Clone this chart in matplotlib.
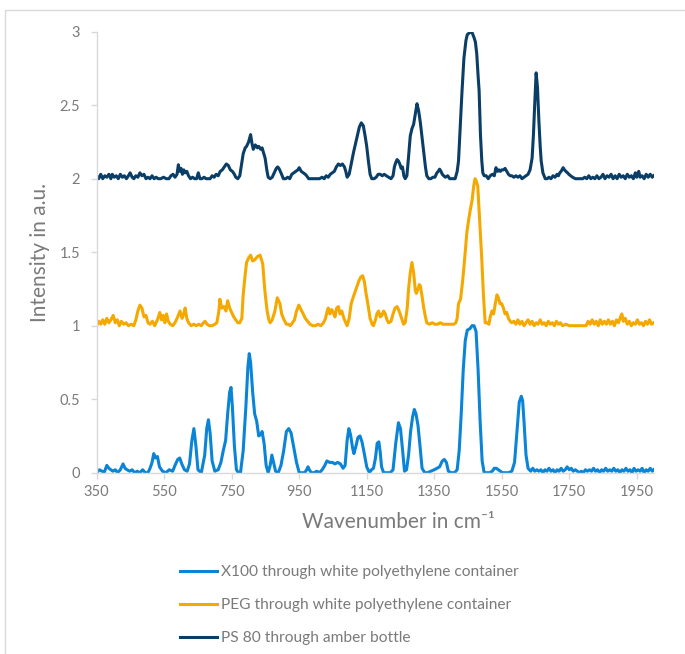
import matplotlib
matplotlib.use('Agg')
import matplotlib.pyplot as plt
from matplotlib.patches import Rectangle

plt.rcParams['font.family'] = ['Lato', 'DejaVu Sans']

# Raman spectra, stacked with offsets of 1 a.u.
x100_wn = [350, 358, 366, 372, 380, 386, 392, 398, 405, 412, 420, 428, 434, 440, 448, 455, 462, 470, 478,
           486, 494, 502, 508, 514, 519, 524, 530, 536, 545, 555, 565, 575, 582, 590, 596, 602, 610, 618,
           625, 632, 638, 644, 650, 660, 670, 676, 681, 686, 692, 700, 710, 718, 725, 732, 738, 744, 748,
           752, 758, 764, 770, 776, 784, 792, 798, 802, 806, 812, 818, 824, 830, 836, 840, 846, 852, 858,
           864, 869, 874, 880, 888, 896, 904, 912, 919, 926, 934, 942, 950, 958, 966, 972, 976, 980, 986,
           994, 1002, 1010, 1018, 1026, 1032, 1040, 1048, 1056, 1064, 1072, 1080, 1086, 1092, 1097, 1102,
           1108, 1112, 1118, 1124, 1130, 1136, 1142, 1150, 1158, 1164, 1170, 1176, 1181, 1186, 1190, 1194,
           1200, 1210, 1220, 1228, 1236, 1244, 1250, 1256, 1262, 1268, 1274, 1280, 1286, 1291, 1296, 1302,
           1308, 1314, 1322, 1330, 1340, 1350, 1358, 1366, 1374, 1380, 1386, 1392, 1400, 1410, 1418, 1424,
           1430, 1436, 1442, 1448, 1456, 1462, 1468, 1474, 1480, 1486, 1492, 1498, 1506, 1514, 1522, 1528,
           1534, 1540, 1546, 1552, 1560, 1570, 1580, 1588, 1596, 1602, 1608, 1612, 1616, 1622, 1628, 1636,
           1642, 1648, 1654, 1660, 1666, 1672, 1678, 1684, 1690, 1696, 1702, 1708, 1714, 1720, 1726, 1732,
           1738, 1744, 1750, 1756, 1762, 1768, 1774, 1780, 1786, 1792, 1798, 1804, 1810, 1816, 1822, 1828,
           1834, 1840, 1846, 1852, 1858, 1864, 1870, 1876, 1882, 1888, 1894, 1900, 1906, 1912, 1918, 1924,
           1930, 1936, 1942, 1948, 1954, 1960, 1966, 1972, 1978, 1984, 1990, 1996, 2000]
x100_int = [0.0, 0.02, 0.01, 0.0, 0.05, 0.03, 0.02, 0.01, 0.02, 0.0, 0.02, 0.06, 0.03, 0.02, 0.01, 0.02, 0.0,
            0.01, 0.0, 0.02, 0.0, 0.0, 0.03, 0.07, 0.13, 0.10, 0.11, 0.04, 0.01, 0.0, 0.02, 0.01, 0.05, 0.09,
            0.10, 0.06, 0.02, 0.01, 0.06, 0.22, 0.30, 0.18, 0.02, 0.0, 0.12, 0.30, 0.36, 0.27, 0.08, 0.01,
            0.02, 0.07, 0.15, 0.22, 0.40, 0.55, 0.58, 0.45, 0.18, 0.02, 0.0, 0.0, 0.15, 0.45, 0.72, 0.81,
            0.75, 0.55, 0.40, 0.35, 0.25, 0.26, 0.28, 0.20, 0.05, 0.0, 0.05, 0.12, 0.07, 0.01, 0.0, 0.05,
            0.15, 0.28, 0.30, 0.27, 0.17, 0.07, 0.0, 0.0, 0.0, 0.02, 0.04, 0.02, 0.0, 0.0, 0.01, 0.0, 0.02,
            0.05, 0.08, 0.07, 0.07, 0.06, 0.07, 0.06, 0.03, 0.05, 0.22, 0.30, 0.26, 0.17, 0.13, 0.18, 0.24,
            0.25, 0.21, 0.14, 0.04, 0.0, 0.02, 0.03, 0.10, 0.20, 0.21, 0.14, 0.04, 0.0, 0.0, 0.0, 0.02, 0.20,
            0.34, 0.30, 0.16, 0.01, 0.02, 0.12, 0.28, 0.38, 0.43, 0.40, 0.32, 0.18, 0.03, 0.0, 0.0, 0.01,
            0.02, 0.03, 0.04, 0.08, 0.09, 0.07, 0.01, 0.0, 0.0, 0.02, 0.15, 0.40, 0.70, 0.90, 0.97, 0.98,
            1.0, 1.0, 0.96, 0.70, 0.35, 0.08, 0.0, 0.0, 0.0, 0.01, 0.03, 0.03, 0.02, 0.01, 0.0, 0.0, 0.0,
            0.01, 0.07, 0.30, 0.48, 0.52, 0.49, 0.35, 0.12, 0.03, 0.01, 0.03, 0.01, 0.02, 0.01, 0.02, 0.0,
            0.02, 0.01, 0.03, 0.01, 0.02, 0.0, 0.02, 0.01, 0.03, 0.01, 0.02, 0.04, 0.02, 0.03, 0.01, 0.02,
            0.01, 0.0, 0.01, 0.0, 0.02, 0.01, 0.02, 0.01, 0.03, 0.01, 0.02, 0.0, 0.02, 0.01, 0.03, 0.01,
            0.02, 0.01, 0.03, 0.01, 0.02, 0.0, 0.02, 0.01, 0.03, 0.01, 0.02, 0.0, 0.03, 0.01, 0.02, 0.01,
            0.03, 0.0, 0.02, 0.01, 0.03, 0.01, 0.02]

peg_wn = [350, 356, 362, 368, 374, 380, 386, 392, 399, 405, 411, 417, 423, 430, 437, 444, 452, 460, 466,
          472, 478, 484, 490, 496, 502, 508, 515, 522, 530, 537, 542, 547, 552, 557, 562, 568, 575, 582,
          590, 597, 603, 608, 612, 617, 622, 630, 638, 645, 652, 660, 666, 671, 677, 684, 692, 700, 706,
          712, 715, 720, 727, 733, 738, 744, 750, 756, 762, 768, 774, 780, 784, 790, 794, 800, 806, 812,
          819, 826, 834, 838, 842, 846, 849, 855, 860, 864, 870, 878, 885, 889, 893, 898, 905, 912, 918,
          923, 930, 936, 942, 949, 955, 962, 968, 975, 982, 990, 998, 1006, 1014, 1022, 1028, 1033, 1036,
          1041, 1046, 1051, 1056, 1061, 1066, 1071, 1076, 1081, 1086, 1092, 1098, 1104, 1108, 1114, 1120,
          1126, 1132, 1138, 1143, 1148, 1154, 1160, 1166, 1170, 1176, 1180, 1185, 1190, 1195, 1200, 1205,
          1210, 1215, 1222, 1228, 1234, 1240, 1246, 1252, 1259, 1264, 1270, 1274, 1279, 1284, 1289, 1294,
          1297, 1302, 1306, 1309, 1314, 1319, 1324, 1328, 1336, 1344, 1352, 1360, 1368, 1376, 1384, 1392,
          1400, 1408, 1414, 1418, 1422, 1428, 1434, 1440, 1447, 1452, 1457, 1462, 1467, 1471, 1475, 1479,
          1485, 1491, 1496, 1501, 1506, 1512, 1516, 1521, 1526, 1531, 1536, 1540, 1545, 1550, 1555, 1560,
          1565, 1570, 1575, 1580, 1586, 1592, 1598, 1604, 1610, 1616, 1622, 1628, 1634, 1640, 1646, 1652,
          1658, 1664, 1670, 1676, 1682, 1688, 1694, 1700, 1706, 1712, 1718, 1724, 1730, 1740, 1750, 1760,
          1770, 1780, 1790, 1800, 1806, 1812, 1818, 1824, 1830, 1836, 1842, 1848, 1854, 1860, 1866, 1872,
          1878, 1884, 1890, 1896, 1902, 1906, 1910, 1916, 1922, 1928, 1934, 1940, 1946, 1952, 1958, 1964,
          1970, 1976, 1982, 1988, 1994, 2000]
peg_int = [1.0, 1.03, 1.01, 1.04, 1.01, 1.05, 1.02, 1.04, 1.07, 1.02, 1.04, 1.0, 1.03, 1.01, 1.02, 1.0,
           1.01, 1.0, 1.04, 1.10, 1.14, 1.12, 1.06, 1.07, 1.02, 1.01, 1.03, 1.0, 1.04, 1.09, 1.04, 1.07,
           1.02, 1.08, 1.03, 1.01, 1.0, 1.02, 1.06, 1.10, 1.05, 1.08, 1.12, 1.05, 1.02, 1.0, 1.01, 1.0,
           1.01, 1.0, 1.02, 1.03, 1.01, 1.0, 1.0, 1.01, 1.02, 1.10, 1.18, 1.12, 1.13, 1.10, 1.17, 1.12,
           1.09, 1.06, 1.04, 1.02, 1.02, 1.05, 1.21, 1.35, 1.43, 1.46, 1.48, 1.44, 1.45, 1.47, 1.48, 1.45,
           1.42, 1.30, 1.22, 1.10, 1.04, 1.02, 1.04, 1.10, 1.19, 1.17, 1.15, 1.08, 1.04, 1.01, 1.01, 1.0,
           1.02, 1.04, 1.10, 1.14, 1.11, 1.08, 1.05, 1.03, 1.01, 1.0, 1.0, 1.01, 1.0, 1.02, 1.05, 1.10,
           1.12, 1.08, 1.11, 1.09, 1.06, 1.12, 1.13, 1.08, 1.10, 1.06, 1.03, 1.0, 1.05, 1.15, 1.18, 1.22,
           1.26, 1.30, 1.33, 1.34, 1.30, 1.22, 1.14, 1.05, 1.01, 1.0, 1.04, 1.08, 1.10, 1.06, 1.07, 1.10,
           1.08, 1.04, 1.02, 1.03, 1.08, 1.12, 1.13, 1.10, 1.06, 1.01, 1.02, 1.12, 1.25, 1.36, 1.43, 1.36,
           1.24, 1.22, 1.25, 1.28, 1.27, 1.20, 1.12, 1.06, 1.02, 1.01, 1.02, 1.01, 1.01, 1.02, 1.01, 1.01,
           1.01, 1.01, 1.01, 1.02, 1.05, 1.15, 1.18, 1.30, 1.45, 1.64, 1.72, 1.79, 1.85, 1.95, 2.0, 1.98,
           1.95, 1.70, 1.45, 1.20, 1.02, 1.02, 1.01, 1.06, 1.10, 1.08, 1.15, 1.21, 1.19, 1.15, 1.15, 1.12,
           1.08, 1.09, 1.05, 1.03, 1.02, 1.03, 1.01, 1.04, 1.01, 1.03, 1.0, 1.02, 1.04, 1.01, 1.03, 1.0,
           1.02, 1.01, 1.04, 1.01, 1.02, 1.0, 1.03, 1.01, 1.02, 1.0, 1.03, 1.01, 1.02, 1.0, 1.01, 1.0, 1.0,
           1.0, 1.0, 1.0, 1.0, 1.03, 1.01, 1.04, 1.01, 1.03, 1.0, 1.04, 1.01, 1.03, 1.01, 1.04, 1.01, 1.03,
           1.0, 1.04, 1.02, 1.06, 1.08, 1.03, 1.05, 1.01, 1.03, 1.0, 1.02, 1.01, 1.04, 1.01, 1.02, 1.0,
           1.03, 1.01, 1.04, 1.01, 1.02]

ps80_wn = [350, 356, 362, 368, 374, 380, 386, 392, 396, 402, 408, 414, 420, 426, 432, 438, 444, 449, 455,
           460, 466, 472, 478, 484, 490, 496, 502, 508, 514, 520, 526, 532, 540, 548, 556, 564, 570, 576,
           582, 588, 592, 596, 600, 604, 608, 612, 617, 622, 628, 634, 640, 646, 651, 656, 662, 668, 674,
           680, 686, 692, 698, 704, 710, 716, 722, 728, 734, 740, 746, 752, 758, 762, 768, 774, 778, 784,
           790, 794, 800, 806, 810, 814, 820, 826, 830, 836, 840, 844, 849, 854, 858, 864, 870, 876, 882,
           886, 890, 896, 903, 910, 916, 922, 928, 934, 940, 946, 950, 956, 962, 968, 972, 978, 986, 994,
           1002, 1010, 1018, 1024, 1030, 1036, 1042, 1048, 1054, 1060, 1066, 1072, 1078, 1084, 1088, 1092,
           1098, 1104, 1111, 1121, 1128, 1134, 1140, 1146, 1150, 1155, 1160, 1165, 1172, 1178, 1184, 1190,
           1196, 1202, 1208, 1215, 1222, 1228, 1232, 1236, 1240, 1244, 1248, 1252, 1256, 1260, 1264, 1269,
           1274, 1279, 1284, 1289, 1294, 1299, 1304, 1309, 1314, 1319, 1324, 1328, 1334, 1340, 1346, 1352,
           1358, 1362, 1366, 1370, 1374, 1378, 1383, 1390, 1396, 1404, 1412, 1418, 1422, 1426, 1432, 1438,
           1444, 1448, 1453, 1458, 1463, 1468, 1472, 1476, 1480, 1483, 1487, 1491, 1494, 1498, 1504, 1510,
           1516, 1522, 1528, 1533, 1538, 1542, 1546, 1550, 1555, 1560, 1565, 1570, 1575, 1580, 1586, 1592,
           1598, 1604, 1610, 1616, 1622, 1628, 1634, 1640, 1644, 1648, 1652, 1656, 1660, 1664, 1667, 1672,
           1679, 1685, 1690, 1696, 1702, 1708, 1714, 1718, 1722, 1726, 1732, 1736, 1740, 1745, 1749, 1754,
           1760, 1768, 1776, 1784, 1790, 1796, 1802, 1808, 1814, 1820, 1826, 1832, 1838, 1844, 1850, 1856,
           1862, 1868, 1874, 1880, 1886, 1892, 1898, 1904, 1910, 1916, 1922, 1928, 1934, 1940, 1946, 1950,
           1956, 1960, 1966, 1972, 1978, 1984, 1990, 1996, 2000]
ps80_int = [2.02, 2.0, 2.03, 2.0, 2.02, 2.01, 2.03, 2.0, 2.03, 2.01, 2.02, 2.0, 2.03, 2.01, 2.02, 2.0, 2.02,
            2.04, 2.01, 2.0, 2.02, 2.01, 2.04, 2.02, 2.03, 2.0, 2.01, 2.0, 2.02, 2.0, 2.01, 2.0, 2.0, 2.01,
            2.0, 2.0, 2.02, 2.03, 2.01, 2.03, 2.095, 2.05, 2.07, 2.03, 2.06, 2.04, 2.05, 2.02, 2.0, 2.01, 2.0,
            2.0, 2.04, 2.0, 2.0, 2.01, 2.0, 2.0, 2.0, 2.02, 2.01, 2.03, 2.02, 2.05, 2.06, 2.08, 2.10, 2.09,
            2.06, 2.05, 2.03, 2.01, 2.0, 2.02, 2.08, 2.17, 2.21, 2.22, 2.25, 2.30, 2.24, 2.20, 2.23, 2.21,
            2.22, 2.20, 2.21, 2.18, 2.14, 2.06, 2.01, 2.0, 2.01, 2.04, 2.07, 2.08, 2.07, 2.04, 2.0, 2.0,
            2.01, 2.0, 2.03, 2.04, 2.05, 2.06, 2.075, 2.05, 2.04, 2.03, 2.02, 2.0, 2.0, 2.0, 2.0, 2.0, 2.01,
            2.0, 2.02, 2.01, 2.03, 2.04, 2.05, 2.08, 2.10, 2.09, 2.10, 2.08, 2.05, 2.01, 2.03, 2.10, 2.18,
            2.28, 2.35, 2.38, 2.36, 2.28, 2.22, 2.12, 2.03, 2.0, 2.0, 2.01, 2.03, 2.03, 2.02, 2.03, 2.02,
            2.01, 2.0, 2.02, 2.08, 2.11, 2.13, 2.12, 2.10, 2.07, 2.08, 2.02, 2.0, 2.02, 2.15, 2.29, 2.34,
            2.37, 2.44, 2.51, 2.46, 2.38, 2.28, 2.18, 2.08, 2.02, 2.0, 2.0, 2.01, 2.01, 2.04, 2.05, 2.065,
            2.05, 2.03, 2.02, 2.01, 2.02, 2.0, 2.0, 2.0, 2.05, 2.12, 2.30, 2.58, 2.82, 2.94, 2.98, 2.99,
            3.0, 2.99, 2.96, 2.93, 2.85, 2.70, 2.60, 2.30, 2.12, 2.04, 2.02, 2.02, 2.0, 2.02, 2.03, 2.02,
            2.075, 2.05, 2.06, 2.05, 2.06, 2.06, 2.07, 2.05, 2.03, 2.02, 2.02, 2.01, 2.02, 2.01, 2.02, 2.0,
            2.01, 2.02, 2.03, 2.06, 2.14, 2.30, 2.52, 2.72, 2.62, 2.40, 2.22, 2.12, 2.04, 2.0, 2.0, 2.01,
            2.0, 2.02, 2.01, 2.03, 2.02, 2.04, 2.05, 2.075, 2.06, 2.05, 2.04, 2.03, 2.02, 2.01, 2.0, 2.0,
            2.0, 2.0, 2.01, 2.0, 2.02, 2.0, 2.01, 2.0, 2.02, 2.0, 2.01, 2.03, 2.0, 2.02, 2.01, 2.03, 2.0,
            2.02, 2.0, 2.03, 2.01, 2.02, 2.0, 2.03, 2.01, 2.02, 2.0, 2.04, 2.01, 2.05, 2.01, 2.02, 2.0, 2.03,
            2.01, 2.03, 2.01, 2.02]

labels = ['X100 through white polyethylene container',
          'PEG through white polyethylene container',
          'PS 80 through amber bottle']
colors = ['#0A84D6', '#F5A800', '#0B3E66']
x_ticks = [350, 550, 750, 950, 1150, 1350, 1550, 1750, 1950]
y_ticks = [0, 0.5, 1, 1.5, 2, 2.5, 3]

text_color = '#7A7A7A'
axis_color = '#D9D9D9'

fig = plt.figure(figsize=(6.85, 6.54), dpi=100)
# light outer chart border
fig.patches.append(Rectangle((5 / 685, -0.1), 2, (644 / 654) + 0.1, transform=fig.transFigure,
                             fill=False, edgecolor='#D9D9D9', linewidth=1.0))

ax = fig.add_axes([96.7 / 685, 181.3 / 654, 556.9 / 685, 441 / 654])

series = [(x100_wn, x100_int), (peg_wn, peg_int), (ps80_wn, ps80_int)]
lines = []
for (wn, inten), lab, col in zip(series, labels, colors):
    ln, = ax.plot(wn, inten, color=col, linewidth=2.2, label=lab, solid_joinstyle='round')
    lines.append(ln)

ax.set_xlim(350, 2000)
ax.set_ylim(0, 3)
ax.set_xticks(x_ticks)
ax.set_yticks(y_ticks)
ax.set_yticklabels(['0', '0.5', '1', '1.5', '2', '2.5', '3'])

for side in ['top', 'right']:
    ax.spines[side].set_visible(False)
for side in ['left', 'bottom']:
    ax.spines[side].set_color(axis_color)
    ax.spines[side].set_linewidth(1.0)
ax.tick_params(axis='both', direction='out', length=4, width=1.0, color=axis_color,
               labelcolor=text_color, labelsize=10.5)
ax.tick_params(axis='y', pad=8)
ax.tick_params(axis='x', pad=5)

ax.set_ylabel('Intensity in a.u.', fontsize=15, color=text_color)
ax.yaxis.set_label_coords(-0.084, 0.5)
ax.set_xlabel('Wavenumber in cm⁻¹', fontsize=15, color=text_color)
ax.xaxis.set_label_coords((398 - 96.7) / 556.9, -0.088)

fig.legend(handles=lines, loc='upper left', bbox_to_anchor=(180 / 685, (654 - 565) / 654),
           frameon=False, fontsize=11.2, labelcolor=text_color, handlelength=2.4,
           handletextpad=0.25, labelspacing=1.22, borderpad=0, borderaxespad=0)

fig.savefig('out.png', dpi=100)
